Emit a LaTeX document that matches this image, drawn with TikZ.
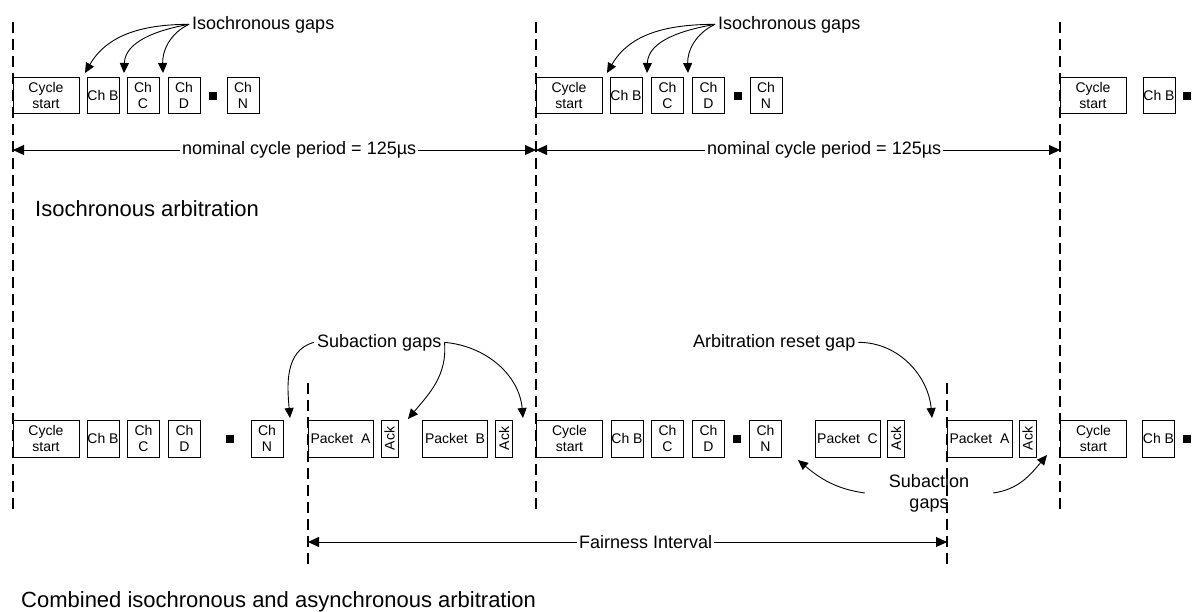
\documentclass[tikz,border=0pt]{standalone}
\usepackage{fontspec}
\setmainfont{Liberation Sans}
\usetikzlibrary{arrows.meta}

\newcommand\boxfont{\fontsize{14}{16}\selectfont}
\newcommand\lblfont{\fontsize{18}{21}\selectfont}
\newcommand\headfont{\fontsize{22}{26}\selectfont}

\tikzset{
  box/.style={draw, line width=1pt, inner sep=0pt, align=center, font=\boxfont,
              minimum height=36pt},
  cs/.style={box, minimum width=66pt},
  ch/.style={box, minimum width=32pt},
  pk/.style={box, minimum width=65pt},
  ack/.style={box, rotate=90, minimum width=37pt, minimum height=17pt},
  dot/.style={fill, inner sep=0pt, minimum size=8pt},
  lbl/.style={font=\lblfont, inner sep=3pt},
  head/.style={font=\headfont, inner sep=0pt, anchor=base west},
  boundary/.style={line width=2pt, dash pattern=on 11pt off 6pt},
  gaparrow/.style={line width=0.9pt, -{Triangle[length=10pt,width=9pt]}},
  dimarrow/.style={line width=1pt, -{Triangle[length=11pt,width=10pt]}},
}

\begin{document}
\begin{tikzpicture}[x=1pt,y=-1pt]
\useasboundingbox[fill=white] (0,0) rectangle (1192,611);

% cycle boundaries
\draw[boundary] (13,22) -- (13,510);
\draw[boundary] (536,22) -- (536,510);
\draw[boundary] (1060,22) -- (1060,510);
% fairness interval boundaries
\draw[boundary] (308,383) -- (308,567);
\draw[boundary] (947,383) -- (947,567);

% ---------- isochronous arbitration ----------
\node[cs] (t1cs) at (46,95) {Cycle\\start};
\node[ch] (t1b) at (103,95) {Ch B};
\node[ch] (t1c) at (143,95) {Ch\\C};
\node[ch] (t1d) at (184,95) {Ch\\D};
\node[dot] (t1sq) at (213,96) {};
\node[ch] (t1n) at (243,95) {Ch\\N};

\node[cs] (t2cs) at (569,95) {Cycle\\start};
\node[ch] (t2b) at (626,95) {Ch B};
\node[ch] (t2c) at (667.5,95) {Ch\\C};
\node[ch] (t2d) at (708.5,95) {Ch\\D};
\node[dot] (t2sq) at (737.5,96) {};
\node[ch] (t2n) at (766,95) {Ch\\N};

\node[cs] (t3cs) at (1093,95) {Cycle\\start};
\node[ch] (t3b) at (1159,95) {Ch B};
\node[dot] (t3sq) at (1187,96) {};

% isochronous gap callouts
\node[lbl, anchor=base west] (iso1) at (189,29) {Isochronous gaps};
\coordinate (g1a) at (85,73);
\coordinate (g1b) at (124,73);
\coordinate (g1c) at (163,73);
\draw[gaparrow] (iso1.west) to[out=180,in=60] (g1a);
\draw[gaparrow] (iso1.west) to[out=190,in=88] (g1b);
\draw[gaparrow] (iso1.west) to[out=205,in=92] (g1c);

\node[lbl, anchor=base west] (iso2) at (715,29) {Isochronous gaps};
\coordinate (g2a) at (607,73);
\coordinate (g2b) at (647,73);
\coordinate (g2c) at (688,73);
\draw[gaparrow] (iso2.west) to[out=180,in=60] (g2a);
\draw[gaparrow] (iso2.west) to[out=190,in=88] (g2b);
\draw[gaparrow] (iso2.west) to[out=205,in=92] (g2c);

% nominal cycle period
\coordinate (p1l) at (13,150);
\coordinate (p1r) at (536,150);
\coordinate (p2r) at (1060,150);
\node[lbl, inner sep=2pt, anchor=west] (nom1) at (180,150) {nominal cycle period = 125µs};
\node[lbl, inner sep=2pt, anchor=west] (nom2) at (705,150) {nominal cycle period = 125µs};
\draw[dimarrow] (nom1.west) -- (p1l);
\draw[dimarrow] (nom1.east) -- (p1r);
\draw[dimarrow] (nom2.west) -- (p1r);
\draw[dimarrow] (nom2.east) -- (p2r);

\node[head] (title1) at (35,216) {Isochronous arbitration};

% ---------- combined arbitration ----------
\begin{scope}[box/.append style={minimum height=37pt}]
\node[cs] (b1cs) at (46,438.5) {Cycle\\start};
\node[ch] (b1b) at (103,438.5) {Ch B};
\node[ch] (b1c) at (143.5,438.5) {Ch\\C};
\node[ch] (b1d) at (184.5,438.5) {Ch\\D};
\node[dot] (b1sq) at (230,438.5) {};
\node[ch] (b1n) at (267,438.5) {Ch\\N};

\node[pk] (bpa) at (340.5,438.5) {Packet\ \ A};
\node[ack] (ack1) at (389.5,438.5) {Ack};
\node[pk] (bpb) at (455,438.5) {Packet\ \ B};
\node[ack] (ack2) at (504,438.5) {Ack};

\node[cs] (b2cs) at (569.5,438.5) {Cycle\\start};
\node[ch] (b2b) at (627,438.5) {Ch B};
\node[ch] (b2c) at (667.5,438.5) {Ch\\C};
\node[ch] (b2d) at (708.5,438.5) {Ch\\D};
\node[dot] (b2sq) at (737,438.5) {};
\node[ch] (b2n) at (765.5,438.5) {Ch\\N};

\node[pk] (bpc) at (847.5,438.5) {Packet\ \ C};
\node[ack] (ack3) at (896,438.5) {Ack};
\node[pk] (bpa2) at (979.5,438.5) {Packet\ \ A};
\node[ack] (ack4) at (1027.5,438.5) {Ack};

\node[cs] (b3cs) at (1093.5,438.5) {Cycle\\start};
\node[ch] (b3b) at (1158.5,438.5) {Ch B};
\node[dot] (b3sq) at (1187,438.5) {};
\end{scope}

% subaction gaps, first cycle
\node[lbl, anchor=base west] (sub1) at (314,347) {Subaction gaps};
\coordinate (s1a) at (290,418);
\coordinate (s1b) at (408,419);
\coordinate (s1c) at (523,418);
\draw[gaparrow] (sub1.west) to[out=195,in=95] (s1a);
\draw[gaparrow] (sub1.east) to[out=-85,in=50] (s1b);
\draw[gaparrow] (sub1.east) to[out=-5,in=95] (s1c);

% arbitration reset gap
\node[lbl, anchor=base west] (arb) at (690,347) {Arbitration reset gap};
\coordinate (r1) at (932,418);
\draw[gaparrow] (arb.east) to[out=0,in=95] (r1);

% subaction gaps, second cycle
\node[lbl, align=center, inner xsep=24pt, inner ysep=0pt] (sub2) at (929,493) {Subaction\\gaps};
\coordinate (s2a) at (798,460);
\coordinate (s2b) at (1047,455);
\draw[gaparrow] (sub2.west) to[out=172,in=-40] (s2a);
\draw[gaparrow] (sub2.east) to[out=8,in=-130] (s2b);

% fairness interval
\coordinate (fl) at (308,542);
\coordinate (fr) at (947,542);
\node[lbl, inner sep=2pt, anchor=west] (fair) at (577,542) {Fairness Interval};
\draw[dimarrow] (fair.west) -- (fl);
\draw[dimarrow] (fair.east) -- (fr);

\node[head] (title2) at (21,607) {Combined isochronous and asynchronous arbitration};
\end{tikzpicture}
\end{document}
